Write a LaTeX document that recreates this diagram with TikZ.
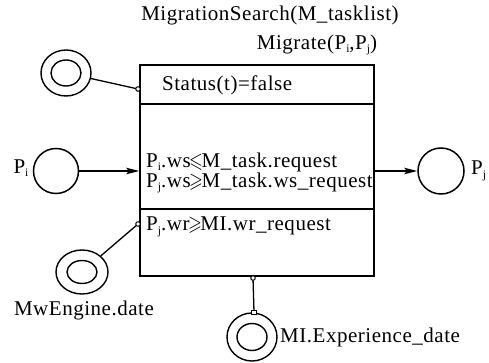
\documentclass[tikz,border=0pt]{standalone}
\usepackage{fontspec}
\usepackage{amssymb}
\setmainfont{Liberation Serif}[LetterSpace=2.5]
\usetikzlibrary{arrows.meta,shapes.geometric}

\newcommand{\lowidx}[1]{\raisebox{-0.35ex}{\fontsize{11.5}{11.5}\selectfont #1}}
\newcommand{\lesl}{\kern-1.5pt\scalebox{0.85}[1]{$\leqslant$}\kern-1.5pt}
\newcommand{\gesl}{\kern-1.5pt\scalebox{0.85}[1]{$\geqslant$}\kern-1.5pt}

\tikzset{
  txt/.style={font=\fontsize{21}{23}\selectfont, inner sep=0pt},
  place/.style={draw, circle, line width=1.5pt, inner sep=0pt},
  outerring/.style={draw, ellipse, line width=1.4pt, inner sep=0pt},
  conn/.style={line width=1.3pt},
  flow/.style={line width=1.5pt, -{Stealth[length=13pt,width=6.5pt,inset=2.5pt]}},
  knob/.style={draw, circle, line width=1pt, fill=white, inner sep=0pt, minimum size=4.5pt},
}

\begin{document}
\begin{tikzpicture}[x=1pt,y=-1pt]
\useasboundingbox (0,0) rectangle (489,363);

% transition box with its three compartments
\node[draw, line width=1.5pt, minimum width=234pt, minimum height=211pt, inner sep=0pt] (box) at (257,170.5) {};
\coordinate (d1) at (140,104);
\coordinate (d2) at (140,209);
\draw[line width=1.4pt] (d1) -- (d1 -| box.east);
\draw[line width=1.4pt] (d2) -- (d2 -| box.east);

% headings
\node[txt] (search) at (270,15) {MigrationSearch(M\_tasklist)};
\node[txt] (migrate) at (317,45) {Migrate(P\lowidx{i},P\lowidx{j})};

% compartment texts
\node[txt, anchor=west] (status) at (162,85) {Status(t)=false};
\node[txt, anchor=west] (c1) at (146,162) {P\lowidx{i}.ws\lesl M\_task.request};
\node[txt, anchor=west] (c2) at (146,183) {P\lowidx{j}.ws\gesl M\_task.ws\_request};
\node[txt, anchor=west] (c3) at (146,227) {P\lowidx{j}.wr\gesl MI.wr\_request};

% input and output places
\node[place, minimum size=45pt] (pi) at (56,171) {};
\node[place, minimum size=46pt] (pj) at (441,171) {};
\node[txt] (pilab) at (21,168) {P\lowidx{i}};
\node[txt, anchor=west] (pjlab) at (471,171) {P\lowidx{j}};
\draw[flow] (pi.east) -- (pi.east -| box.west);
\draw[flow] (pj.west -| box.east) -- (pj.west);

% status place (top left)
\node[outerring, minimum width=50pt, minimum height=46pt] (s1) at (66,73) {};
\node[outerring, minimum width=30pt, minimum height=26pt] (s1in) at (66,73) {};
\coordinate (k1) at (138,89);
\draw[conn] (s1) -- (k1);
\node[knob] at (k1) {};

% engine place (bottom left)
\node[outerring, minimum width=52pt, minimum height=44pt] (s2) at (82,272) {};
\node[outerring, minimum width=30pt, minimum height=23pt] (s2in) at (82,272) {};
\coordinate (k2) at (138,224);
\draw[conn] (s2) -- (k2);
\node[knob] at (k2) {};
\node[txt] (s2lab) at (84,310) {MwEngine.date};

% experience place (bottom)
\node[outerring, minimum width=50pt, minimum height=48pt] (s3) at (252,337) {};
\node[outerring, minimum width=30pt, minimum height=27pt] (s3in) at (252,337) {};
\coordinate (k3) at (253,278);
\coordinate (k4) at (254,312);
\draw[conn] (k3) -- (k4);
\node[knob] at (k3) {};
\node[draw, line width=1pt, fill=white, inner sep=0pt, minimum width=5pt, minimum height=4pt] at (k4) {};
\node[txt, anchor=west] (s3lab) at (280,337) {MI.Experience\_date};
\end{tikzpicture}
\end{document}
